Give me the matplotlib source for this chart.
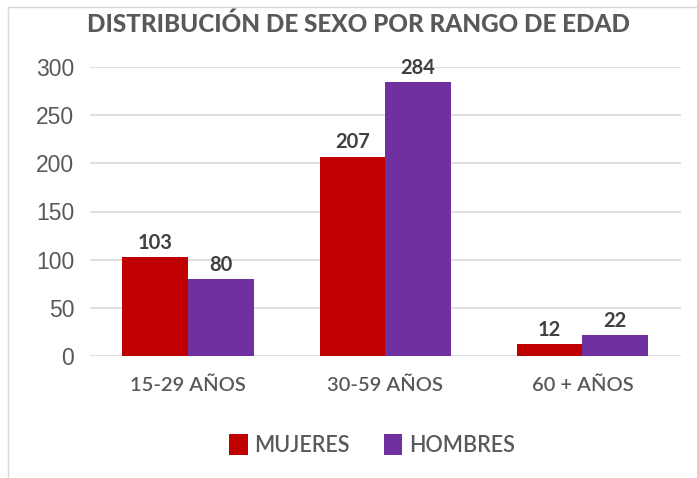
import matplotlib
matplotlib.use("Agg")
import matplotlib.pyplot as plt
from matplotlib.patches import Rectangle, Patch
import numpy as np

categories = ["15-29 AÑOS", "30-59 AÑOS", "60 + AÑOS"]
mujeres = [103, 207, 12]
hombres = [80, 284, 22]
series_names = ["MUJERES", "HOMBRES"]
yticks = [0, 50, 100, 150, 200, 250, 300]

RED = "#C00000"
PURPLE = "#7030A0"
TXT = "#595959"
LAB = "#404040"
LBLFONT = "Lato"

W, H = 697, 478
fig = plt.figure(figsize=(W / 100, H / 100), dpi=100)

# figure border (light gray)
fig.add_artist(Rectangle((8 / W, -0.05), 1.2, 1 - 7 / H + 0.05, transform=fig.transFigure,
                         fill=False, edgecolor="#D9D9D9", linewidth=1))

ax = fig.add_axes([89.5 / W, 1 - 356 / H, (681 - 89.5) / W, (356 - 67) / H])
x = np.arange(len(categories))
bw = 0.333
b1 = ax.bar(x - bw / 2, mujeres, bw, color=RED, zorder=3)
b2 = ax.bar(x + bw / 2, hombres, bw, color=PURPLE, zorder=3)

for bars in (b1, b2):
    for r in bars:
        ax.annotate(f"{int(r.get_height())}", (r.get_x() + r.get_width() / 2, r.get_height()),
                    xytext=(0, 3), textcoords="offset points", ha="center", va="bottom",
                    fontsize=14.5, fontweight="bold", color=LAB, family=LBLFONT)

ax.set_xlim(-0.5, 2.5)
ax.set_ylim(0, 300)
ax.set_yticks(yticks)
ax.set_yticklabels([str(v) for v in yticks], family="Liberation Sans", fontsize=16.5, color=TXT)
ax.set_xticks(x)
ax.set_xticklabels(categories, family=LBLFONT, fontsize=14.5, fontweight="semibold", color=TXT)
ax.tick_params(axis="both", length=0)
ax.tick_params(axis="y", pad=11)
ax.tick_params(axis="x", pad=15)
ax.grid(axis="y", color="#D9D9D9", linewidth=1.2, zorder=0)
for s in ["top", "right", "left", "bottom"]:
    ax.spines[s].set_visible(False)

fig.text(359 / W, 1 - 24 / H, "DISTRIBUCIÓN DE SEXO POR RANGO DE EDAD", ha="center", va="center",
         fontsize=17.5, fontweight="black", color="#595959", family=LBLFONT)

handles = [Patch(facecolor=RED), Patch(facecolor=PURPLE)]
leg = fig.legend(handles, series_names, loc="center", bbox_to_anchor=(372 / W, 1 - 445 / H),
                 ncol=2, frameon=False, handlelength=0.85, handleheight=1.1, handletextpad=0.3,
                 columnspacing=1.6, prop={"family": LBLFONT, "size": 15.5, "weight": "semibold"})
for t in leg.get_texts():
    t.set_color(TXT)

fig.savefig("out.png", dpi=100)
